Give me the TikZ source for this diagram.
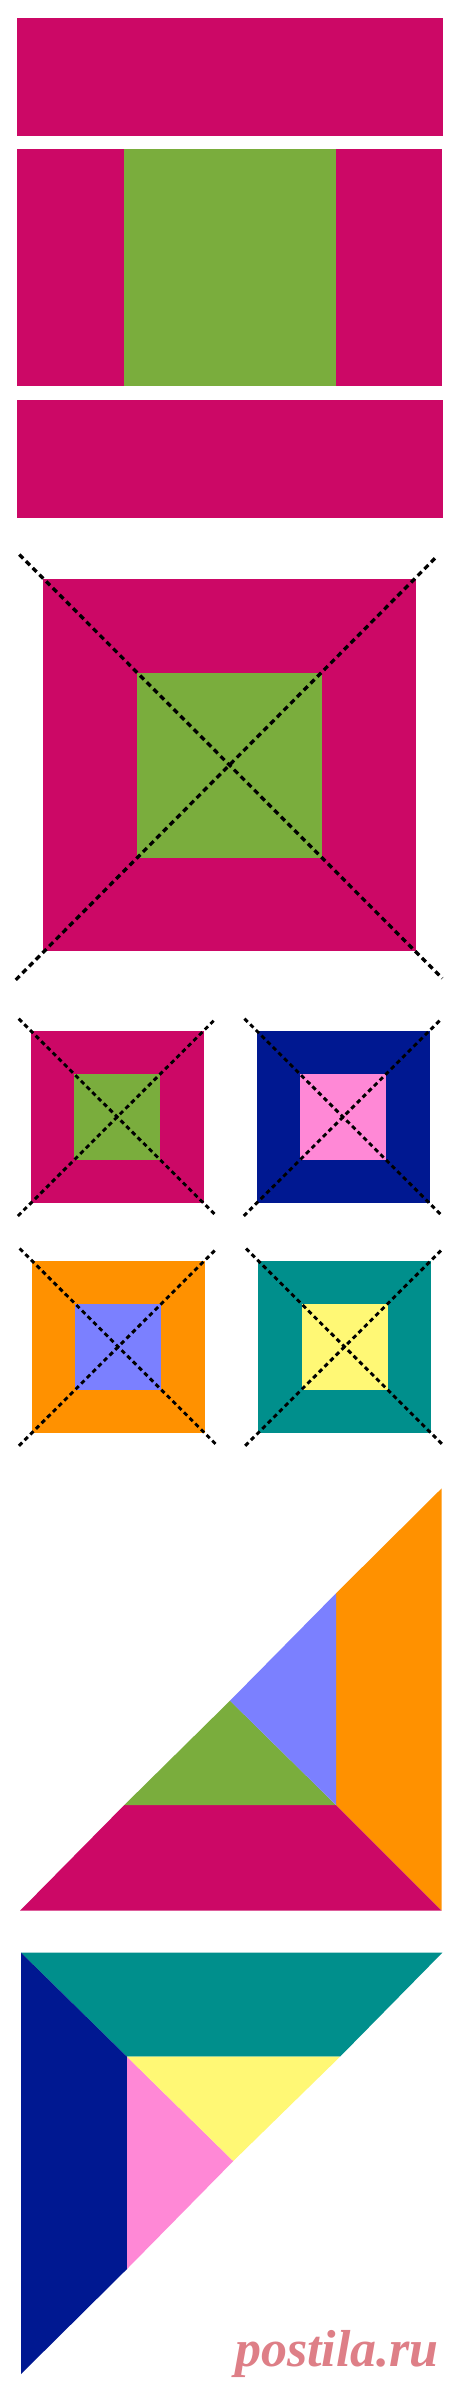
\documentclass[tikz,border=0pt]{standalone}
\usepackage{fontspec}
\newfontfamily\wmfont{Liberation Serif}
\definecolor{mag}{RGB}{204,8,102}
\definecolor{grn}{RGB}{122,173,61}
\definecolor{navy}{RGB}{0,24,145}
\definecolor{lpink}{RGB}{255,136,214}
\definecolor{orng}{RGB}{255,145,0}
\definecolor{peri}{RGB}{123,128,255}
\definecolor{teal}{RGB}{0,143,140}
\definecolor{yel}{RGB}{255,248,117}
\definecolor{wm}{RGB}{222,127,135}
\begin{document}
\begin{tikzpicture}[x=1pt,y=-1pt,
  bigdash/.style={line width=3.3pt,dash pattern=on 5.5pt off 4pt,black},
  smalldash/.style={line width=2.9pt,dash pattern=on 4.5pt off 3.5pt,black}]
\useasboundingbox[fill=white] (0,0) rectangle (460,2394);
% top block
\fill[mag] (16.7,17.5) rectangle (443.3,135.5);
\fill[mag] (16.7,149.3) rectangle (123.7,386.3);
\fill[grn] (123.7,149.3) rectangle (336.3,386.3);
\fill[mag] (336.3,149.3) rectangle (442.3,386.3);
\fill[mag] (16.7,400) rectangle (443.3,517.7);
% big square
\fill[mag] (43.3,579.3) rectangle (416,951);
\fill[grn] (136.7,673.3) rectangle (322.3,858.3);
\draw[bigdash] (19.3,554.5) -- (442.3,978.3);
\draw[bigdash] (435,558.3) -- (13.3,982.3);
% small squares
\newcommand\smallsq[6]{%
  \fill[#5] (#1,#2) rectangle (#1+173,#2+172.5);
  \fill[#6] (#1+43.5,#2+43.5) rectangle (#1+129.5,#2+129.5);
  \draw[smalldash] (#1-12,#2-12) -- (#1+185,#2+184.5);
  \draw[smalldash] (#1+183,#2-10) -- (#1-14,#2+186.5);
}
\smallsq{30.7}{1030.7}{}{}{mag}{grn}
\smallsq{256.5}{1030.7}{}{}{navy}{lpink}
\smallsq{31.7}{1260.5}{}{}{orng}{peri}
\smallsq{258}{1260.5}{}{}{teal}{yel}
% triangle 1
\fill[orng] (336,1593.3) -- (441.7,1488.3) -- (441.7,1910.7) -- (336,1805) -- cycle;
\fill[mag] (20,1910.7) -- (441.7,1910.7) -- (336,1805) -- (124.3,1805) -- cycle;
\fill[grn] (124.3,1805) -- (336,1805) -- (230,1700.7) -- cycle;
\fill[peri] (230,1700.7) -- (336,1593.3) -- (336,1805) -- cycle;
% triangle 2
\fill[teal] (21,1952.7) -- (442.3,1952.7) -- (340,2056.7) -- (127,2056.7) -- cycle;
\fill[navy] (21,1952.7) -- (127,2056.7) -- (127,2269) -- (21,2374) -- cycle;
\fill[lpink] (127,2056.7) -- (233.3,2161) -- (127,2269) -- cycle;
\fill[yel] (127,2056.7) -- (340,2056.7) -- (233.3,2161) -- cycle;
% watermark
\node[anchor=base east,inner sep=0pt,text=wm,font=\wmfont\bfseries\itshape\fontsize{52}{52}\selectfont] (wmark) at (439,2366) {postila.ru};
\end{tikzpicture}
\end{document}
